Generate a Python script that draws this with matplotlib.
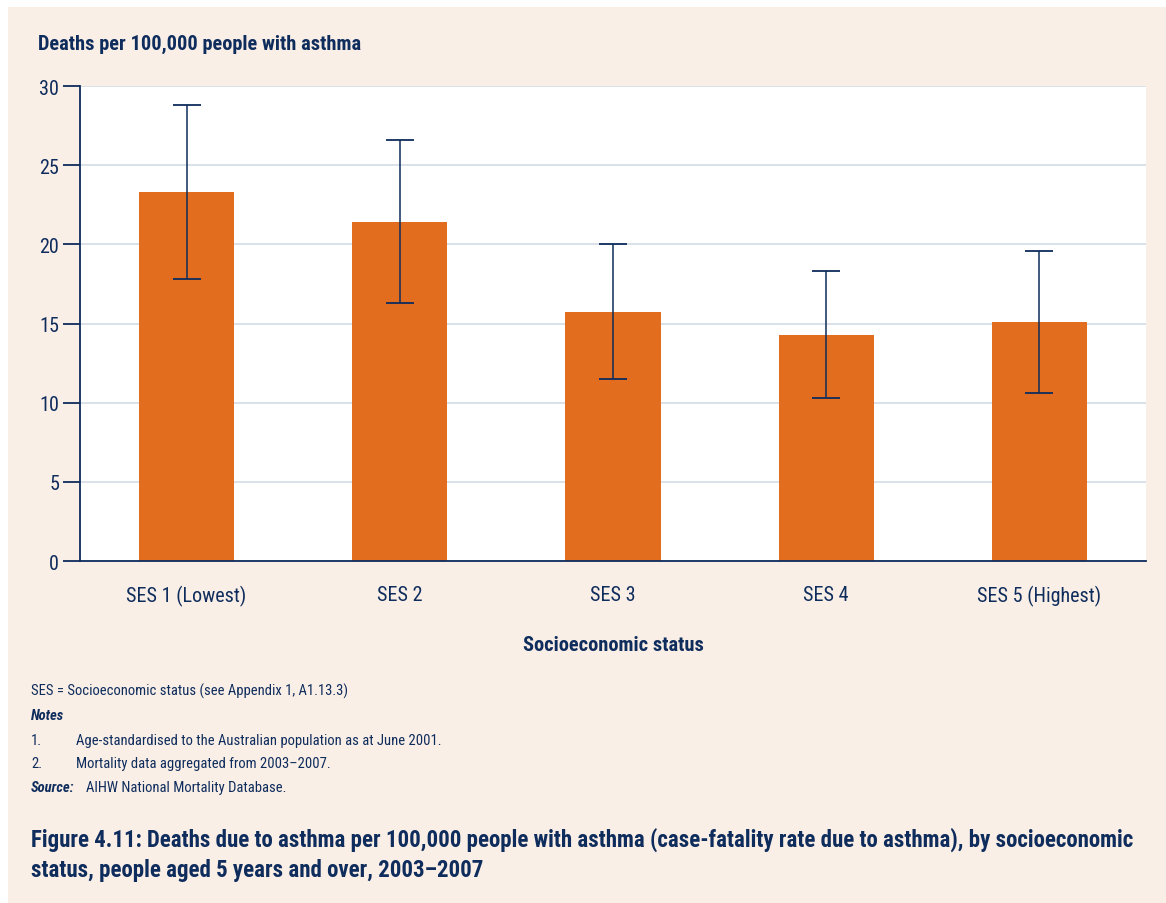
import matplotlib
matplotlib.use("Agg")
import matplotlib.pyplot as plt
from matplotlib import font_manager
from matplotlib.patches import Rectangle

categories = ["SES 1 (Lowest)", "SES 2", "SES 3", "SES 4", "SES 5 (Highest)"]
rates = [23.3, 21.4, 15.7, 14.3, 15.1]
ci_low = [17.8, 16.3, 11.5, 10.3, 10.6]
ci_high = [28.8, 26.6, 20.0, 18.3, 19.6]
yticks = [0, 5, 10, 15, 20, 25, 30]

available = {f.name for f in font_manager.fontManager.ttflist}
fam = "DejaVu Sans"
for cand in ["Liberation Sans Narrow", "Roboto Condensed", "Open Sans Condensed", "Roboto"]:
    if cand in available:
        fam = cand
        break
plt.rcParams["font.family"] = [fam, "DejaVu Sans"]

NAVY = "#0E2C5C"
ORANGE = "#E36D1F"
PEACH = "#FAEFE7"
GRID = "#D3DBE4"

W, H = 1166, 904
fig = plt.figure(figsize=(W / 100, H / 100), dpi=100, facecolor="white")
fig.patches.append(Rectangle((8 / W, 0), 1 - 8 / W, 1 - 8 / H, transform=fig.transFigure,
                             facecolor=PEACH, edgecolor="none", zorder=-10))

ax = fig.add_axes([80 / W, 1 - 562 / H, (1146 - 80) / W, (562 - 87) / H])
ax.set_facecolor("white")
x = list(range(len(categories)))
ax.bar(x, rates, width=0.446, color=ORANGE, zorder=2)
err_lo = [r - l for r, l in zip(rates, ci_low)]
err_hi = [h - r for r, h in zip(rates, ci_high)]
ax.errorbar(x, rates, yerr=[err_lo, err_hi], fmt="none", ecolor=NAVY, elinewidth=1.1,
            capsize=10, capthick=1.3, zorder=3)
ax.set_xlim(-0.5, 4.5)
ax.set_ylim(0, 30)
ax.set_yticks(yticks)
ax.set_xticks(x)
ax.set_xticklabels(categories)
ax.grid(axis="y", color=GRID, linewidth=1.2, zorder=0)
ax.set_axisbelow(True)
for s in ["top", "right"]:
    ax.spines[s].set_visible(False)
for s in ["left", "bottom"]:
    ax.spines[s].set_color(NAVY)
    ax.spines[s].set_linewidth(1.3)
ax.tick_params(axis="y", length=12, width=1.3, color=NAVY, labelcolor=NAVY, labelsize=14.5, pad=3)
ax.tick_params(axis="x", length=0, labelcolor=NAVY, labelsize=14.5, pad=17)

fig.text(38 / W, 1 - 44 / H, "Deaths per 100,000 people with asthma", fontsize=14.7,
         fontweight="bold", color=NAVY, va="center", ha="left")
fig.text(613 / W, 1 - 646 / H, "Socioeconomic status", fontsize=14.7, fontweight="bold",
         color=NAVY, va="center", ha="center")

fs = 10.5
fig.text(31 / W, 1 - 691 / H, "SES = Socioeconomic status (see Appendix 1, A1.13.3)",
         fontsize=fs, color=NAVY, va="center")
fig.text(31 / W, 1 - 716 / H, "Notes", fontsize=fs, color=NAVY, va="center",
         fontweight="bold", style="italic")
fig.text(31 / W, 1 - 741 / H, "1.", fontsize=fs, color=NAVY, va="center")
fig.text(76 / W, 1 - 741 / H, "Age-standardised to the Australian population as at June 2001.",
         fontsize=fs, color=NAVY, va="center")
fig.text(31 / W, 1 - 764 / H, "2.", fontsize=fs, color=NAVY, va="center")
fig.text(76 / W, 1 - 764 / H, "Mortality data aggregated from 2003\u20132007.",
         fontsize=fs, color=NAVY, va="center")
fig.text(31 / W, 1 - 788 / H, "Source:", fontsize=fs, color=NAVY, va="center",
         fontweight="bold", style="italic")
fig.text(86 / W, 1 - 788 / H, "AIHW National Mortality Database.", fontsize=fs, color=NAVY,
         va="center")

fig.text(31 / W, 1 - 840 / H,
         "Figure 4.11: Deaths due to asthma per 100,000 people with asthma (case-fatality rate due to asthma), by socioeconomic",
         fontsize=16.5, fontweight="bold", color=NAVY, va="center")
fig.text(31 / W, 1 - 871 / H, "status, people aged 5 years and over, 2003\u20132007",
         fontsize=16.5, fontweight="bold", color=NAVY, va="center")

fig.savefig("out.png", dpi=100, facecolor="white")
